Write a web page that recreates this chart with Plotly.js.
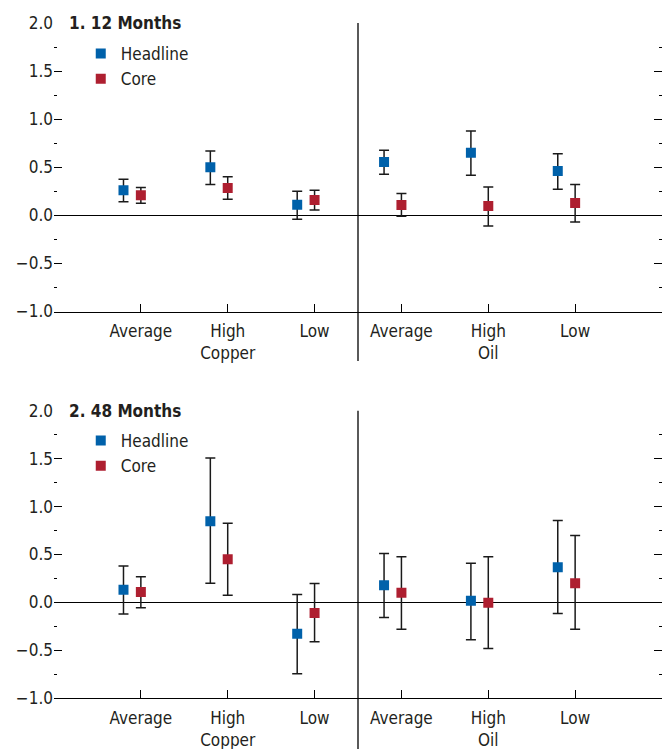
<!DOCTYPE html>
<html><head><meta charset="utf-8">
<script src="https://cdn.plot.ly/plotly-3.0.1.min.js"></script>
<style>html,body{margin:0;padding:0;background:#fff}#chart{width:663px;height:749px}</style>
</head><body><div id="chart"></div>
<script>
const categories = ["Average","High<br>Copper","Low","Average","High<br>Oil","Low"];
const panelTitles = ["1. 12 Months","2. 48 Months"];
const seriesNames = ["Headline","Core"];
// Panel 1: 12 months
const head12   = [0.26, 0.50, 0.11, 0.555, 0.65, 0.46];
const head12Hi = [0.375, 0.67, 0.25, 0.677, 0.878, 0.64];
const head12Lo = [0.14, 0.32, -0.04, 0.427, 0.417, 0.27];
const core12   = [0.21, 0.285, 0.16, 0.107, 0.097, 0.128];
const core12Hi = [0.29, 0.40, 0.26, 0.226, 0.295, 0.32];
const core12Lo = [0.125, 0.167, 0.055, -0.01, -0.11, -0.07];
// Panel 2: 48 months
const head48   = [0.132, 0.847, -0.326, 0.18, 0.017, 0.368];
const head48Hi = [0.38, 1.507, 0.083, 0.51, 0.41, 0.854];
const head48Lo = [-0.12, 0.20, -0.743, -0.156, -0.39, -0.115];
const core48   = [0.108, 0.45, -0.111, 0.10, -0.003, 0.20];
const core48Hi = [0.267, 0.826, 0.198, 0.476, 0.476, 0.698];
const core48Lo = [-0.056, 0.076, -0.41, -0.28, -0.48, -0.28];

const FONT = '"DejaVu Sans Condensed", "Liberation Sans Narrow", sans-serif';
const TXT = '#231f20';
const BLUE = '#0061aa';
const RED = '#ae1f30';
const FS = 17;
const H = 749;
const pos = categories.map((c, i) => i + 1);

function trace(vals, hi, lo, name, color, offset, xa, ya, legend) {
  return {
    type: 'scatter', mode: 'markers', name: name,
    x: pos.map(p => p + offset), y: vals,
    xaxis: xa, yaxis: ya, legend: legend, showlegend: true,
    marker: {symbol: 'square', size: 10, color: color},
    error_y: {type: 'data', symmetric: false,
      array: vals.map((v, i) => hi[i] - v),
      arrayminus: vals.map((v, i) => v - lo[i]),
      color: '#1a1a1a', thickness: 1.5, width: 5},
    hoverinfo: 'x+y'
  };
}

const data = [
  trace(head12, head12Hi, head12Lo, seriesNames[0], BLUE, -0.2, 'x', 'y', 'legend'),
  trace(core12, core12Hi, core12Lo, seriesNames[1], RED, 0, 'x', 'y', 'legend'),
  trace(head48, head48Hi, head48Lo, seriesNames[0], BLUE, -0.2, 'x2', 'y2', 'legend2'),
  trace(core48, core48Hi, core48Lo, seriesNames[1], RED, 0, 'x2', 'y2', 'legend2')
];

function xax(anchor) {
  return {anchor: anchor, domain: [0, 1], range: [0, pos.length + 1],
    tickvals: pos, ticktext: categories, ticks: 'inside', ticklen: 8, tickwidth: 1, tickcolor: '#000',
    ticklabelstandoff: 4,
    showline: true, linecolor: '#000', linewidth: 1, showgrid: false, zeroline: false,
    tickfont: {family: FONT, size: FS, color: TXT}, fixedrange: true};
}
function yax(anchor, top, bottom) {
  return {anchor: anchor, domain: [1 - bottom / H, 1 - top / H], range: [-1, 2],
    dtick: 0.5, tickformat: '.1f', ticks: 'inside', ticklen: 8, tickwidth: 1, tickcolor: '#000',
    mirror: 'ticks', showline: false, showgrid: false,
    zeroline: true, zerolinecolor: '#000', zerolinewidth: 1,
    minor: {dtick: 0.25, ticks: 'inside', ticklen: 3, tickwidth: 1, tickcolor: '#000', showgrid: false},
    tickfont: {family: FONT, size: FS, color: TXT}, fixedrange: true};
}

const layout = {
  width: 663, height: 749,
  margin: {l: 54, r: 1, t: 0, b: 0},
  paper_bgcolor: '#fff', plot_bgcolor: '#fff',
  font: {family: FONT, size: FS, color: TXT},
  xaxis: xax('y'), yaxis: yax('x', 23, 311.5),
  xaxis2: xax('y2'), yaxis2: yax('x2', 410.7, 698.3),
  legend: {x: 0.044, xanchor: 'left', y: 1 - 36 / H, yanchor: 'top', bgcolor: 'rgba(0,0,0,0)',
    font: {family: FONT, size: FS, color: TXT}, tracegroupgap: 0},
  legend2: {x: 0.044, xanchor: 'left', y: 1 - 423 / H, yanchor: 'top', bgcolor: 'rgba(0,0,0,0)',
    font: {family: FONT, size: FS, color: TXT}, tracegroupgap: 0},
  annotations: [
    {text: '<b>' + panelTitles[0] + '</b>', xref: 'paper', yref: 'y', x: 0.022, y: 2,
     xanchor: 'left', yanchor: 'middle', showarrow: false, font: {family: FONT, size: FS, color: TXT}},
    {text: '<b>' + panelTitles[1] + '</b>', xref: 'paper', yref: 'y2', x: 0.022, y: 2,
     xanchor: 'left', yanchor: 'middle', showarrow: false, font: {family: FONT, size: FS, color: TXT}}
  ],
  shapes: [
    {type: 'line', xref: 'paper', yref: 'paper', x0: 0.5, x1: 0.5, y0: 1 - 23 / H, y1: 1 - 361 / H,
     line: {color: '#000', width: 1.3}},
    {type: 'line', xref: 'paper', yref: 'paper', x0: 0.5, x1: 0.5, y0: 1 - 410.7 / H, y1: 0,
     line: {color: '#000', width: 1.3}}
  ]
};

Plotly.newPlot('chart', data, layout, {displayModeBar: false});
</script>
</body></html>
